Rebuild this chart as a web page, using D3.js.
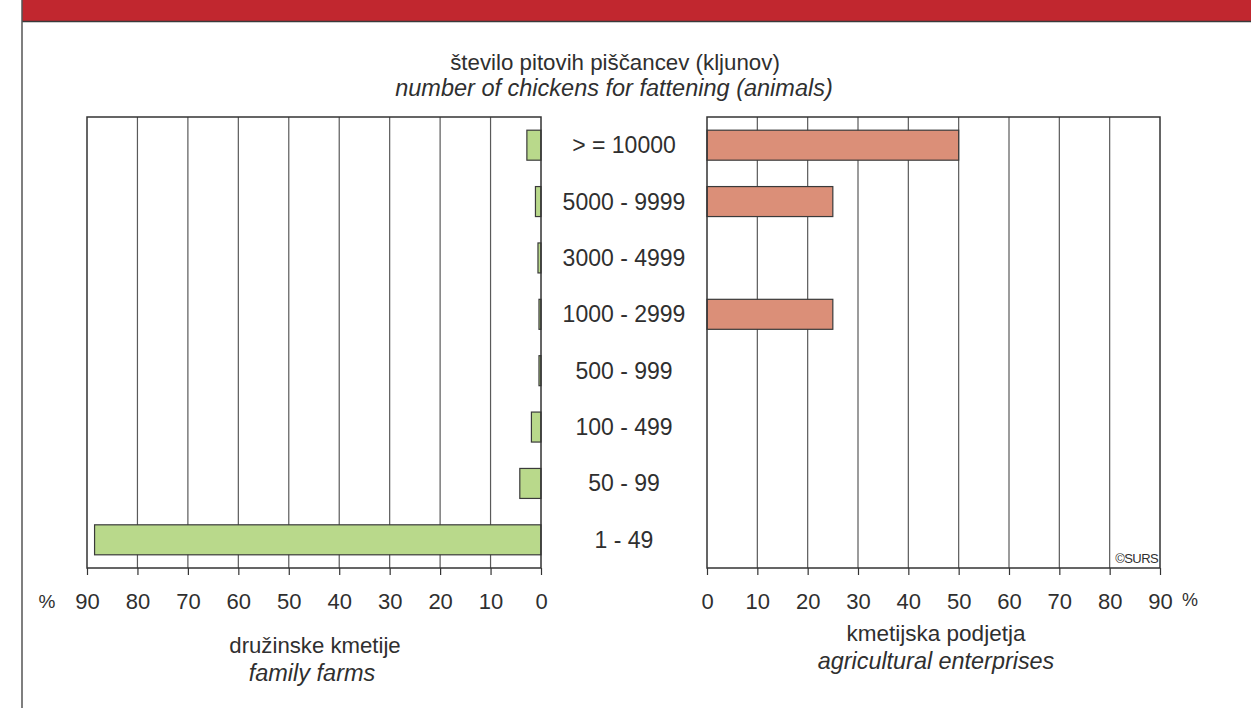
<!DOCTYPE html>
<html><head><meta charset="utf-8">
<script src="https://cdn.jsdelivr.net/npm/d3@7"></script>
<style>
html,body{margin:0;padding:0;background:#fff;}
svg{display:block;}
text{font-family:"Liberation Sans",Arial,Helvetica,sans-serif;fill:#2f2f2f;}
</style></head>
<body>
<svg id="c" width="1251" height="708"></svg>
<script>
const categories = ["> = 10000","5000 - 9999","3000 - 4999","1000 - 2999","500 - 999","100 - 499","50 - 99","1 - 49"];
const familyFarms = [2.8, 1.1, 0.6, 0.4, 0.4, 1.9, 4.2, 88.5];
const enterprises = [50, 25, 0, 25, 0, 0, 0, 0];
const tickValues = [0,10,20,30,40,50,60,70,80,90];
const titleSl = "število pitovih piščancev (kljunov)";
const titleEn = "number of chickens for fattening (animals)";

const svg = d3.select("#c");

// header band
svg.append("rect").attr("x",22).attr("y",0).attr("width",1229).attr("height",21).attr("fill","#c1272f");
svg.append("line").attr("x1",22).attr("x2",1251).attr("y1",21.5).attr("y2",21.5).attr("stroke","#3a3a3a").attr("stroke-width",1.5);
svg.append("line").attr("x1",22).attr("x2",22).attr("y1",0).attr("y2",708).attr("stroke","#555").attr("stroke-width",1.5);

const plotTop = 117, plotBottom = 568;
const y = d3.scaleBand().domain(categories).range([plotTop,plotBottom]).paddingInner(0.468).paddingOuter(0.234);
const xL = d3.scaleLinear().domain([0,90]).range([541,87]);
const xR = d3.scaleLinear().domain([0,90]).range([707,1160]);

function panel(x, data, color){
  const g = svg.append("g");
  g.selectAll("line.grid").data(tickValues.slice(1,-1)).enter().append("line")
    .attr("x1",d=>x(d)).attr("x2",d=>x(d)).attr("y1",plotTop).attr("y2",plotBottom)
    .attr("stroke","#5a5a5a").attr("stroke-width",1.2);
  g.selectAll("rect.bar").data(categories.map((c,i)=>({c,v:data[i]})).filter(d=>d.v>0)).enter().append("rect")
    .attr("x",d=>Math.min(x(0),x(d.v))).attr("width",d=>Math.abs(x(d.v)-x(0)))
    .attr("y",d=>y(d.c)).attr("height",y.bandwidth())
    .attr("fill",color).attr("stroke","#3a3a3a").attr("stroke-width",1.2);
  const x0 = Math.min(x.range()[0],x.range()[1]), x1 = Math.max(x.range()[0],x.range()[1]);
  g.append("rect").attr("x",x0).attr("y",plotTop).attr("width",x1-x0).attr("height",plotBottom-plotTop)
    .attr("fill","none").attr("stroke","#333").attr("stroke-width",1.5);
  const ax = g.append("g").attr("transform",`translate(0,${plotBottom})`)
    .call(d3.axisBottom(x).tickValues(tickValues).tickSizeInner(7).tickSizeOuter(0).tickPadding(18).tickFormat(d3.format("d")));
  ax.select(".domain").remove();
  ax.selectAll(".tick line").attr("stroke","#333").attr("stroke-width",1.2);
  ax.selectAll(".tick text").attr("font-size",22).attr("fill","#2f2f2f")
    .attr("font-family","'Liberation Sans',Arial,sans-serif");
  return g;
}
panel(xL, familyFarms, "#b9d98b");
panel(xR, enterprises, "#db8f78");

svg.selectAll("text.cat").data(categories).enter().append("text")
  .attr("x",624).attr("y",d=>y(d)+y.bandwidth()/2).attr("dy","0.35em")
  .attr("text-anchor","middle").attr("font-size",23).text(d=>d);

svg.append("text").attr("x",615).attr("y",69.5).attr("text-anchor","middle").attr("font-size",22.3).text(titleSl);
svg.append("text").attr("x",614).attr("y",95.5).attr("text-anchor","middle").attr("font-size",23.5).attr("font-style","italic").text(titleEn);

svg.append("text").attr("x",47).attr("y",608).attr("text-anchor","middle").attr("font-size",19).text("%");
svg.append("text").attr("x",1190).attr("y",606).attr("text-anchor","middle").attr("font-size",18).text("%");

svg.append("text").attr("x",315).attr("y",653).attr("text-anchor","middle").attr("font-size",22.2).text("družinske kmetije");
svg.append("text").attr("x",312).attr("y",681).attr("text-anchor","middle").attr("font-size",23.5).attr("font-style","italic").text("family farms");
svg.append("text").attr("x",936).attr("y",641).attr("text-anchor","middle").attr("font-size",22.5).text("kmetijska podjetja");
svg.append("text").attr("x",936).attr("y",669).attr("text-anchor","middle").attr("font-size",23.4).attr("font-style","italic").text("agricultural enterprises");

svg.append("text").attr("x",1158).attr("y",563).attr("text-anchor","end").attr("font-size",13).attr("letter-spacing","-0.6").text("©SURS");
</script>
</body></html>
